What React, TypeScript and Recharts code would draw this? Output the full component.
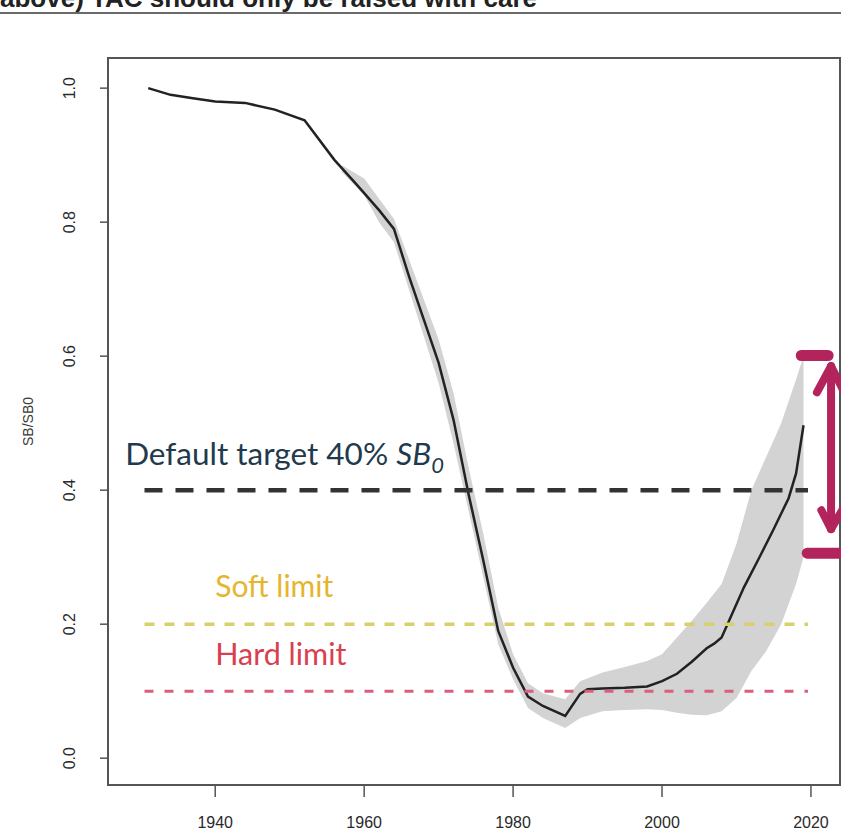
import { ComposedChart, Line, Area, XAxis, YAxis, ReferenceLine, ReferenceArea, ReferenceDot } from 'recharts'

// spawning biomass relative to SB0
const years = [1931, 1934, 1937, 1940, 1944, 1948, 1952, 1956, 1959, 1962, 1964, 1966, 1968, 1970, 1972, 1974, 1976, 1978, 1980, 1982, 1984, 1987, 1989, 1990, 1992, 1995, 1998, 2000, 2002, 2004, 2006, 2007, 2008, 2009, 2011, 2013, 2015, 2017, 2018, 2019]
const sbRatio = [1.0, 0.99, 0.985, 0.98, 0.978, 0.968, 0.952, 0.893, 0.856, 0.818, 0.79, 0.72, 0.655, 0.59, 0.505, 0.395, 0.295, 0.19, 0.135, 0.092, 0.078, 0.063, 0.096, 0.103, 0.104, 0.105, 0.107, 0.115, 0.126, 0.144, 0.164, 0.171, 0.18, 0.205, 0.255, 0.298, 0.342, 0.388, 0.425, 0.497]

// uncertainty band
const bandYears = [1957, 1960, 1962, 1964, 1966, 1968, 1970, 1972, 1974, 1976, 1978, 1980, 1982, 1984, 1987, 1989, 1992, 1995, 1998, 2000, 2002, 2004, 2006, 2008, 2010, 2012, 2014, 2016, 2018, 2019]
const bandLow = [0.875, 0.84, 0.8, 0.77, 0.7, 0.63, 0.56, 0.47, 0.37, 0.27, 0.17, 0.118, 0.075, 0.06, 0.045, 0.06, 0.07, 0.072, 0.073, 0.072, 0.068, 0.065, 0.064, 0.07, 0.09, 0.13, 0.16, 0.2, 0.26, 0.3]
const bandHigh = [0.885, 0.865, 0.835, 0.805, 0.745, 0.685, 0.625, 0.545, 0.435, 0.335, 0.225, 0.155, 0.112, 0.097, 0.088, 0.115, 0.128, 0.136, 0.145, 0.155, 0.18, 0.205, 0.232, 0.26, 0.32, 0.4, 0.45, 0.5, 0.565, 0.6]

const xTicks = [1940, 1960, 1980, 2000, 2020]
const yTicks = [0, 0.2, 0.4, 0.6, 0.8, 1.0]
const xDomain = [1925.6, 2023.9]
const yDomain = [-0.04, 1.045]

const refRange = [1930.5, 2019.6]
const targetLevel = 0.4
const softLimit = 0.2
const hardLimit = 0.1

// hand drawn bracket on the right
const bracketTop = { x1: 2018.7, x2: 2022.3, y: 0.601 }
const bracketBottom = { x1: 2019.5, x2: 2024.2, y: 0.306 }
const arrowX = 2022.7
const arrowY = [0.585, 0.342]

const lineData = years.map((year, i) => ({ year, sb: sbRatio[i] }))
const bandData = bandYears.map((year, i) => ({ year, range: [bandLow[i], bandHigh[i]] }))

const MAGENTA = '#b3235c'

function YTick(props: any) {
  const { x, y, payload } = props
  const cx = x - 28
  return (
    <text x={cx} y={y} transform={`rotate(-90 ${cx} ${y})`} textAnchor="middle" dominantBaseline="central" fontSize={16} fill="#2a2a2a">
      {Number(payload.value).toFixed(1)}
    </text>
  )
}

const annoFont = 'Lato, "Open Sans", sans-serif'

export default function App() {
  return (
    <div style={{ position: 'absolute', left: 0, top: 0, width: 841, height: 832, background: '#fff', overflow: 'hidden', fontFamily: '"Liberation Sans", Arial, sans-serif' }}>
      <svg width={841} height={20} style={{ position: 'absolute', left: 0, top: 0 }}>
        <text x={0} y={7} fontSize={26} fontWeight="bold" fill="#222" fontFamily='"Liberation Sans", Arial, sans-serif'>
          above) TAC should only be raised with care
        </text>
        <line x1={0} x2={841} y1={13} y2={13} stroke="#6a6a6a" strokeWidth={2} />
      </svg>
      <ComposedChart width={841} height={832} margin={{ top: 58, right: 1, bottom: 0, left: 8 }}>
        <XAxis
          type="number"
          dataKey="year"
          domain={xDomain}
          ticks={xTicks}
          allowDataOverflow
          axisLine={false}
          tickSize={12}
          tickMargin={20}
          height={47}
          tickLine={{ stroke: '#555', strokeWidth: 1.5 }}
          tick={{ fill: '#2a2a2a', fontSize: 16 }}
        />
        <YAxis
          type="number"
          domain={yDomain}
          ticks={yTicks}
          allowDataOverflow
          axisLine={false}
          width={100}
          tickSize={8}
          tickMargin={2}
          tickLine={{ stroke: '#555', strokeWidth: 1.5 }}
          tick={<YTick />}
          label={{ value: 'SB/SB0', angle: -90, position: 'insideLeft', offset: 20, fill: '#3a3a3a', fontSize: 14, style: { textAnchor: 'middle' } }}
        />
        <ReferenceArea x1={xDomain[0]} x2={xDomain[1]} y1={yDomain[0]} y2={yDomain[1]} fill="none" stroke="#555" strokeWidth={2} ifOverflow="visible" />
        <Area data={bandData} dataKey="range" type="linear" fill="#d3d3d3" fillOpacity={1} stroke="none" isAnimationActive={false} />
        <Line data={lineData} dataKey="sb" type="linear" stroke="#222" strokeWidth={2.5} dot={false} isAnimationActive={false} />

        <ReferenceLine segment={[{ x: refRange[0], y: targetLevel }, { x: refRange[1], y: targetLevel }]} stroke="#333" strokeWidth={4.5} strokeDasharray="18 13" ifOverflow="visible" />
        <ReferenceLine segment={[{ x: refRange[0], y: softLimit }, { x: refRange[1], y: softLimit }]} stroke="#d8d06a" strokeWidth={3.5} strokeDasharray="10 10" ifOverflow="visible" />
        <ReferenceLine segment={[{ x: refRange[0], y: hardLimit }, { x: refRange[1], y: hardLimit }]} stroke="#d9607c" strokeWidth={3} strokeDasharray="9 11" ifOverflow="visible" />

        <ReferenceDot
          x={1927.9}
          y={0.438}
          r={0}
          ifOverflow="visible"
          shape={(p: any) => (
            <text x={p.cx} y={p.cy} fontSize={31.5} fill="#1f3a4d" fontFamily={annoFont}>
              Default target 40%{' '}
              <tspan fontStyle="italic">SB</tspan>
              <tspan fontStyle="italic" fontSize={22} dy={8}>0</tspan>
            </text>
          )}
        />
        <ReferenceDot
          x={1940}
          y={0.240}
          r={0}
          ifOverflow="visible"
          shape={(p: any) => (
            <text x={p.cx} y={p.cy} fontSize={30} fill="#e6b52e" fontFamily={annoFont}>Soft limit</text>
          )}
        />
        <ReferenceDot
          x={1940}
          y={0.139}
          r={0}
          ifOverflow="visible"
          shape={(p: any) => (
            <text x={p.cx} y={p.cy} fontSize={30.5} fill="#d9404f" fontFamily={annoFont}>Hard limit</text>
          )}
        />

        <ReferenceLine segment={[{ x: bracketTop.x1, y: bracketTop.y }, { x: bracketTop.x2, y: bracketTop.y }]} stroke={MAGENTA} strokeWidth={11} strokeLinecap="round" ifOverflow="visible" />
        <ReferenceLine segment={[{ x: bracketBottom.x1, y: bracketBottom.y }, { x: bracketBottom.x2, y: bracketBottom.y }]} stroke={MAGENTA} strokeWidth={11} strokeLinecap="round" ifOverflow="visible" />
        <ReferenceLine segment={[{ x: arrowX, y: arrowY[0] }, { x: arrowX, y: arrowY[1] }]} stroke={MAGENTA} strokeWidth={8} strokeLinecap="round" ifOverflow="visible" />
        <ReferenceLine segment={[{ x: arrowX, y: arrowY[0] }, { x: 2020.8, y: 0.546 }]} stroke={MAGENTA} strokeWidth={8} strokeLinecap="round" ifOverflow="visible" />
        <ReferenceLine segment={[{ x: arrowX, y: arrowY[0] }, { x: 2024.3, y: 0.55 }]} stroke={MAGENTA} strokeWidth={8} strokeLinecap="round" ifOverflow="visible" />
        <ReferenceLine segment={[{ x: arrowX, y: arrowY[1] }, { x: 2021.4, y: 0.37 }]} stroke={MAGENTA} strokeWidth={8} strokeLinecap="round" ifOverflow="visible" />
        <ReferenceLine segment={[{ x: arrowX, y: arrowY[1] }, { x: 2024.3, y: 0.372 }]} stroke={MAGENTA} strokeWidth={8} strokeLinecap="round" ifOverflow="visible" />
      </ComposedChart>
    </div>
  )
}
